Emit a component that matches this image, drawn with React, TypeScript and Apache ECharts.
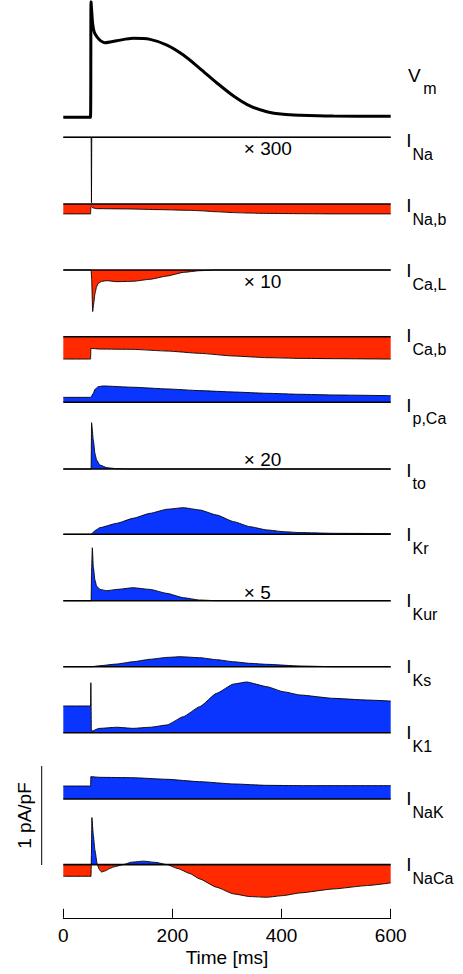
import React, { useEffect, useRef } from "react";
import * as echarts from "echarts";

type P = [number, number];

// ---------- data (time in ms, membrane potential in mV, currents in pA/pF as displayed) ----------
const timeTicks = [0, 200, 400, 600];

const vm: P[] = [
  [0, -81], [49.8, -81], [50.8, 20], [52, 12], [54, 0], [57, -7], [62, -11], [68, -14],
  [76, -15.8], [98, -14.1], [128, -12], [159, -12.9], [190, -17.9], [220, -26.6], [250, -38.2],
  [281, -50.8], [312, -62.4], [342, -71.1], [373, -76.1], [403, -78.4], [434, -79.2],
  [495, -79.9], [600, -80.1],
];

const iNa: P[] = [[0, 0], [51, 0], [51.6, -0.66], [52.2, 0], [600, 0]];

const iNab: P[] = [
  [0, -0.1], [50, -0.1], [50.5, -0.03], [51.5, -0.025], [54, -0.04], [61, -0.047], [116, -0.05],
  [177, -0.057], [232, -0.064], [250, -0.068], [280, -0.078], [312, -0.087], [342, -0.092],
  [373, -0.095], [434, -0.098], [500, -0.1], [600, -0.1],
];

const iCaL: P[] = [
  [0, 0], [51, 0], [52, -0.1], [53.8, -0.42], [56, -0.33], [58, -0.24], [61, -0.17], [64, -0.135],
  [70, -0.115], [80, -0.108], [98, -0.118], [128, -0.114], [159, -0.094], [190, -0.061],
  [220, -0.024], [250, -0.007], [280, 0], [600, 0],
];

const iCab: P[] = [
  [0, -0.226], [50, -0.226], [50.5, -0.118], [67, -0.125], [128, -0.128], [190, -0.145],
  [250, -0.168], [312, -0.195], [373, -0.212], [434, -0.219], [495, -0.222], [600, -0.226],
];

const iPCa: P[] = [
  [0, 0.05], [50, 0.05], [55, 0.09], [58, 0.131], [64, 0.158], [73, 0.165], [128, 0.152],
  [190, 0.135], [250, 0.118], [312, 0.104], [373, 0.091], [434, 0.081], [495, 0.074], [600, 0.067],
];

const iTo: P[] = [
  [0, 0], [51, 0], [51.8, 0.468], [55, 0.293], [58, 0.158], [61, 0.091], [67, 0.04], [80, 0.013],
  [98, 0.003], [130, 0], [600, 0],
];

const iKr: P[] = [
  [0, 0], [51, 0], [52, 0.005], [58, 0.037], [67, 0.067], [98, 0.111], [128, 0.162], [159, 0.212],
  [190, 0.253], [220, 0.269], [250, 0.246], [281, 0.195], [312, 0.128], [342, 0.077],
  [373, 0.044], [403, 0.027], [434, 0.017], [495, 0.01], [600, 0.007],
];

const iKur: P[] = [
  [0, 0], [51, 0], [51.8, 0.3], [53.2, 0.535], [55, 0.343], [58, 0.209], [61, 0.148], [67, 0.114],
  [80, 0.101], [98, 0.114], [128, 0.131], [159, 0.114], [190, 0.074], [220, 0.03], [250, 0.007],
  [280, 0], [600, 0],
];

const iKs: P[] = [
  [0, 0], [51, 0], [67, 0.01], [98, 0.027], [128, 0.05], [159, 0.075], [190, 0.094], [214, 0.101],
  [250, 0.091], [281, 0.071], [312, 0.05], [342, 0.034], [373, 0.024], [434, 0.007], [495, 0],
  [600, 0],
];

const iK1: P[] = [
  [0, 0.271], [50, 0.271], [50.5, 0.506], [51.5, 0.02], [55, 0.02], [60, 0.035], [67, 0.045],
  [98, 0.056], [128, 0.045], [159, 0.056], [190, 0.079], [220, 0.163], [250, 0.264], [281, 0.399],
  [312, 0.493], [336, 0.513], [373, 0.466], [403, 0.415], [434, 0.382], [495, 0.348],
  [556, 0.331], [600, 0.321],
];

const iNaK: P[] = [
  [0, 0.131], [50, 0.131], [50.5, 0.226], [67, 0.219], [128, 0.215], [190, 0.199], [250, 0.175],
  [312, 0.152], [373, 0.138], [434, 0.135], [600, 0.135],
];

const iNaCa: P[] = [
  [0, -0.118], [50.8, -0.118], [51.5, 0.1], [52.4, 0.475], [55, 0.3], [58, 0.145], [62.3, 0],
  [66, -0.05], [70, -0.075], [76, -0.065], [85, -0.04], [92, -0.024], [110, 0], [125, 0.025],
  [147, 0.035], [170, 0.022], [190, 0], [210, -0.04], [232, -0.09], [250, -0.145], [281, -0.229],
  [312, -0.296], [342, -0.323], [373, -0.33], [403, -0.313], [434, -0.286], [495, -0.246],
  [556, -0.212], [600, -0.185],
];

const currents: P[][] = [iNa, iNab, iCaL, iCab, iPCa, iTo, iKr, iKur, iKs, iK1, iNaK, iNaCa];
const labelMain = ["V", "I", "I", "I", "I", "I", "I", "I", "I", "I", "I", "I", "I"];
const labelSub = ["m", "Na", "Na,b", "Ca,L", "Ca,b", "p,Ca", "to", "Kr", "Kur", "Ks", "K1", "NaK", "NaCa"];
const factorText = ["× 300", "× 10", "× 20", "× 5"];
const scaleBarText = "1 pA/pF";
const xName = "Time [ms]";

// ---------- layout ----------
const FONT = "'Liberation Sans', Arial, Helvetica, sans-serif";
const RED = "#ff2a00";
const BLUE = "#0a35ff";
const LEFT = 63.3;
const WIDTH = 327.4;
const PX_PER_UNIT = 99; // 1 pA/pF
const VM_REST_PX = 117.3;
const VM_PX_PER_MV = 1.1446;
const baselinesPx = [137.3, 204, 270, 336.7, 402.3, 469, 534.3, 600.7, 666.7, 732.8, 799, 864.6];
const labelTopPx = [68.3, 134, 199, 263.6, 328.6, 398.3, 463.3, 527.5, 593.5, 660, 726, 792, 858];
const factorY = [148.8, 281.2, 459.6, 592.8];
const SMOOTH = 0.15;

function splitSign(d: P[]) {
  const pos: P[] = [];
  const neg: P[] = [];
  for (let i = 0; i < d.length; i++) {
    const [t, v] = d[i];
    if (i > 0) {
      const [t0, v0] = d[i - 1];
      if ((v0 > 0 && v < 0) || (v0 < 0 && v > 0)) {
        const tc = t0 + ((t - t0) * v0) / (v0 - v);
        pos.push([tc, 0]);
        neg.push([tc, 0]);
      }
    }
    pos.push([t, Math.max(v, 0)]);
    neg.push([t, Math.min(v, 0)]);
  }
  return { pos, neg };
}

function buildOption() {
  const grid: any[] = [];
  const xAxis: any[] = [];
  const yAxis: any[] = [];
  const series: any[] = [];

  // Vm panel
  const vmMin = -90, vmMax = 20;
  grid.push({
    left: LEFT,
    width: WIDTH,
    top: VM_REST_PX - (vmMax - -81) * VM_PX_PER_MV,
    height: (vmMax - vmMin) * VM_PX_PER_MV,
  });
  xAxis.push({ type: "value", gridIndex: 0, min: 0, max: 600, show: false });
  yAxis.push({ type: "value", gridIndex: 0, min: vmMin, max: vmMax, show: false });
  series.push({
    type: "line",
    xAxisIndex: 0,
    yAxisIndex: 0,
    data: vm,
    showSymbol: false,
    clip: false,
    smooth: 0.3,
    lineStyle: { color: "#000", width: 3 },
    z: 3,
  });

  const lo = -0.7, hi = 0.6;
  currents.forEach((d, k) => {
    const gi = k + 1;
    const base = baselinesPx[k];
    grid.push({ left: LEFT, width: WIDTH, top: base - hi * PX_PER_UNIT, height: (hi - lo) * PX_PER_UNIT });
    xAxis.push({ type: "value", gridIndex: gi, min: 0, max: 600, show: false });
    yAxis.push({ type: "value", gridIndex: gi, min: lo, max: hi, show: false });
    const { pos, neg } = splitSign(d);
    const common = { type: "line", xAxisIndex: gi, yAxisIndex: gi, showSymbol: false, silent: true,
      smooth: SMOOTH, smoothMonotone: "x" };
    series.push({
      ...common, data: pos,
      lineStyle: { width: 0, opacity: 0 }, areaStyle: { color: BLUE, opacity: 1 }, z: 1,
    });
    series.push({
      ...common, data: neg,
      lineStyle: { width: 0, opacity: 0 }, areaStyle: { color: RED, opacity: 1 }, z: 1,
    });
    series.push({
      ...common, data: d,
      lineStyle: { color: "#000", width: 0.9 }, z: 2,
    });
    series.push({
      type: "line", xAxisIndex: gi, yAxisIndex: gi, data: [[0, 0], [600, 0]], showSymbol: false,
      lineStyle: { color: "#000", width: 1.6 }, z: 3, silent: true,
    });
  });

  // time axis
  const ai = currents.length + 1;
  grid.push({ left: LEFT, width: WIDTH, top: 880, height: 37.8 });
  xAxis.push({
    type: "value", gridIndex: ai, min: 0, max: 600, interval: 200,
    axisLine: { show: true, lineStyle: { color: "#000", width: 1 } },
    axisTick: { show: true, inside: true, length: 9, lineStyle: { color: "#000", width: 1 } },
    splitLine: { show: false },
    axisLabel: {
      color: "#000", fontSize: 19, fontFamily: FONT, margin: 8,
      customValues: timeTicks,
      formatter: (v: number) => String(v),
    },
    name: xName,
    nameLocation: "middle",
    nameGap: 30,
    nameTextStyle: { color: "#000", fontSize: 19, fontFamily: FONT },
  });
  yAxis.push({ type: "value", gridIndex: ai, min: 0, max: 1, show: false });
  series.push({ type: "line", xAxisIndex: ai, yAxisIndex: ai, data: [], showSymbol: false });

  // graphics: labels
  const graphic: any[] = [];
  labelMain.forEach((m, i) => {
    const top = labelTopPx[i];
    const isV = m === "V";
    const cy = top + 6.8;
    graphic.push({
      type: "text", x: isV ? 408 : 406.2, y: cy,
      style: { text: m, fontSize: 19, fontFamily: FONT, fill: "#000", align: "left", verticalAlign: "middle" },
    });
    graphic.push({
      type: "text", x: isV ? 423.3 : 412.5, y: cy + 13.8,
      style: { text: labelSub[i], fontSize: 16, fontFamily: FONT, fill: "#000", align: "left", verticalAlign: "middle" },
    });
  });
  factorText.forEach((t, i) => {
    graphic.push({
      type: "text", x: 243.8, y: factorY[i],
      style: { text: t, fontSize: 19, fontFamily: FONT, fill: "#000", align: "left", verticalAlign: "middle" },
    });
  });
  graphic.push({
    type: "line",
    shape: { x1: 41.7, y1: 766, x2: 41.7, y2: 766 + PX_PER_UNIT },
    style: { stroke: "#000", lineWidth: 1 },
  });
  graphic.push({
    type: "text", x: 24, y: 815.5, rotation: Math.PI / 2,
    style: { text: scaleBarText, fontSize: 19, fontFamily: FONT, fill: "#000", align: "center", verticalAlign: "middle" },
  });

  return {
    animation: false,
    backgroundColor: "#fff",
    grid,
    xAxis,
    yAxis,
    series,
    graphic,
  };
}

export default function App() {
  const ref = useRef<HTMLDivElement>(null);
  useEffect(() => {
    if (!ref.current) return;
    const chart = echarts.init(ref.current, undefined, { renderer: "svg" });
    chart.setOption(buildOption() as any);
    return () => chart.dispose();
  }, []);
  return (
    <div
      ref={ref}
      style={{ position: "fixed", left: 0, top: 0, width: 463, height: 974, background: "#fff" }}
    />
  );
}
